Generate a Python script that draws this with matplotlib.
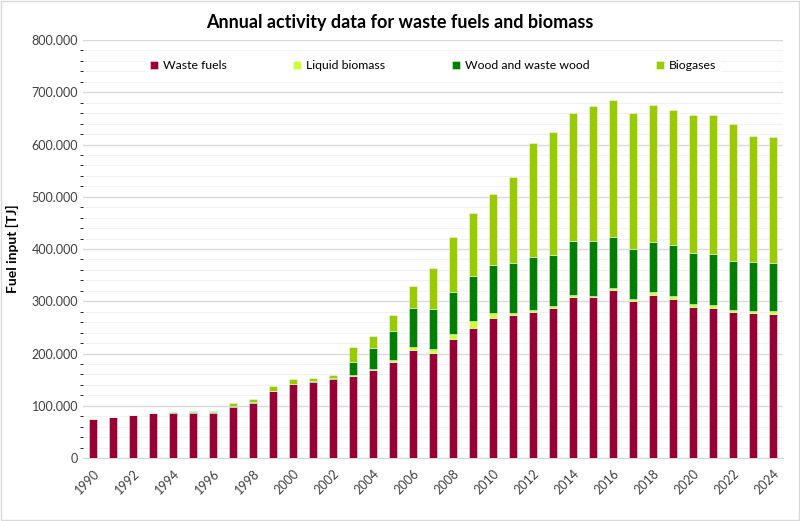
import numpy as np
import matplotlib.pyplot as plt
from matplotlib.patches import Rectangle
from matplotlib.ticker import FuncFormatter, MultipleLocator

plt.rcParams['font.family'] = ['Lato', 'DejaVu Sans']

# Activity data in TJ
years = list(range(1990, 2025))
waste_fuels = [75500, 78000, 81500, 85500, 86000, 86800, 86800, 98200, 105900, 128200,
               141600, 145400, 150600, 157000, 167800, 184400, 206000, 201600, 228400, 249400,
               267900, 274300, 280000, 287700, 308700, 307500, 322200, 300500, 312000, 305000,
               288400, 287700, 278800, 276900, 276200]
liquid_biomass = [500, 300, 300, 300, 0, 0, 0, 0, 0, 0,
                  0, 1000, 1000, 2500, 2200, 3200, 6400, 7700, 8300, 13400,
                  9600, 3800, 3300, 3200, 2700, 3200, 3200, 3800, 5100, 5700,
                  5700, 4500, 4500, 4400, 4600]
wood = [0, 0, 0, 0, 2000, 1000, 1000, 1000, 1000, 1000,
        1000, 1000, 1000, 24200, 39900, 56100, 74600, 75300, 81600, 86200,
        91900, 95100, 102000, 97100, 103300, 104000, 97600, 95700, 96300, 97000,
        98200, 98800, 93700, 93800, 92400]
biogases = [0, 0, 0, 0, 0, 2200, 2800, 5400, 6000, 9200,
            8600, 5600, 6200, 28100, 24100, 29300, 41600, 79700, 104100, 119300,
            136500, 164600, 218200, 235300, 245600, 259000, 261600, 260300, 261600, 258300,
            264200, 266100, 262800, 241800, 241800]

series = [
    ('Waste fuels', waste_fuels, '#990033'),
    ('Liquid biomass', liquid_biomass, '#CCFF33'),
    ('Wood and waste wood', wood, '#008000'),
    ('Biogases', biogases, '#99CC00'),
]

fig = plt.figure(figsize=(8, 5.21), dpi=100)
ax = fig.add_axes([0.10375, 0.1209, 0.875, 0.8023])

x = np.arange(len(years))
bottom = np.zeros(len(years))
for name, vals, col in series:
    vals = np.array(vals, dtype=float)
    ax.bar(x, vals, width=0.42, bottom=bottom, color=col, label=name,
           edgecolor=(1, 1, 1, 0.6), linewidth=0.5, zorder=3)
    bottom += vals

ax.set_xlim(-0.5, len(years) - 0.5)
ax.set_ylim(0, 800000)
ax.yaxis.set_major_locator(MultipleLocator(100000))
ax.yaxis.set_minor_locator(MultipleLocator(20000))
ax.yaxis.set_major_formatter(FuncFormatter(lambda v, p: '0' if v == 0 else f'{int(v):,}'.replace(',', '.')))
ax.grid(axis='y', which='major', color='#d9d9d9', linewidth=1, zorder=0)
ax.grid(axis='y', which='minor', color='#f2f2f2', linewidth=0.8, zorder=0)
ax.set_axisbelow(True)

ax.set_xticks(x[::2])
ax.set_xticklabels([str(y) for y in years[::2]], rotation=45, ha='right', va='top',
                   rotation_mode='anchor', fontsize=9, color='#404040')
ax.tick_params(axis='both', length=0, labelsize=9, labelcolor='#404040')
ax.tick_params(axis='x', pad=7)
for s in ['top', 'right', 'left']:
    ax.spines[s].set_visible(False)
ax.spines['bottom'].set_color('#d9d9d9')

ax.set_ylabel('Fuel input [TJ]', fontsize=10, fontweight='bold', labelpad=9)
fig.text(0.5, 0.957, 'Annual activity data for waste fuels and biomass',
         ha='center', va='center', fontsize=13, fontweight='bold')

leg = ax.legend(loc='center', bbox_to_anchor=(0.5, 0.938), ncol=4, frameon=True,
                fontsize=8.8, handlelength=0.7, handleheight=0.7, handletextpad=0.4,
                columnspacing=5.4, borderaxespad=0, facecolor='white', edgecolor='none',
                framealpha=1)
leg.set_zorder(5)

fig.patches.append(Rectangle((0.001, 0.001), 0.998, 0.997, transform=fig.transFigure,
                             fill=False, edgecolor='#d9d9d9', linewidth=1))

fig.savefig('out.png', dpi=100)
